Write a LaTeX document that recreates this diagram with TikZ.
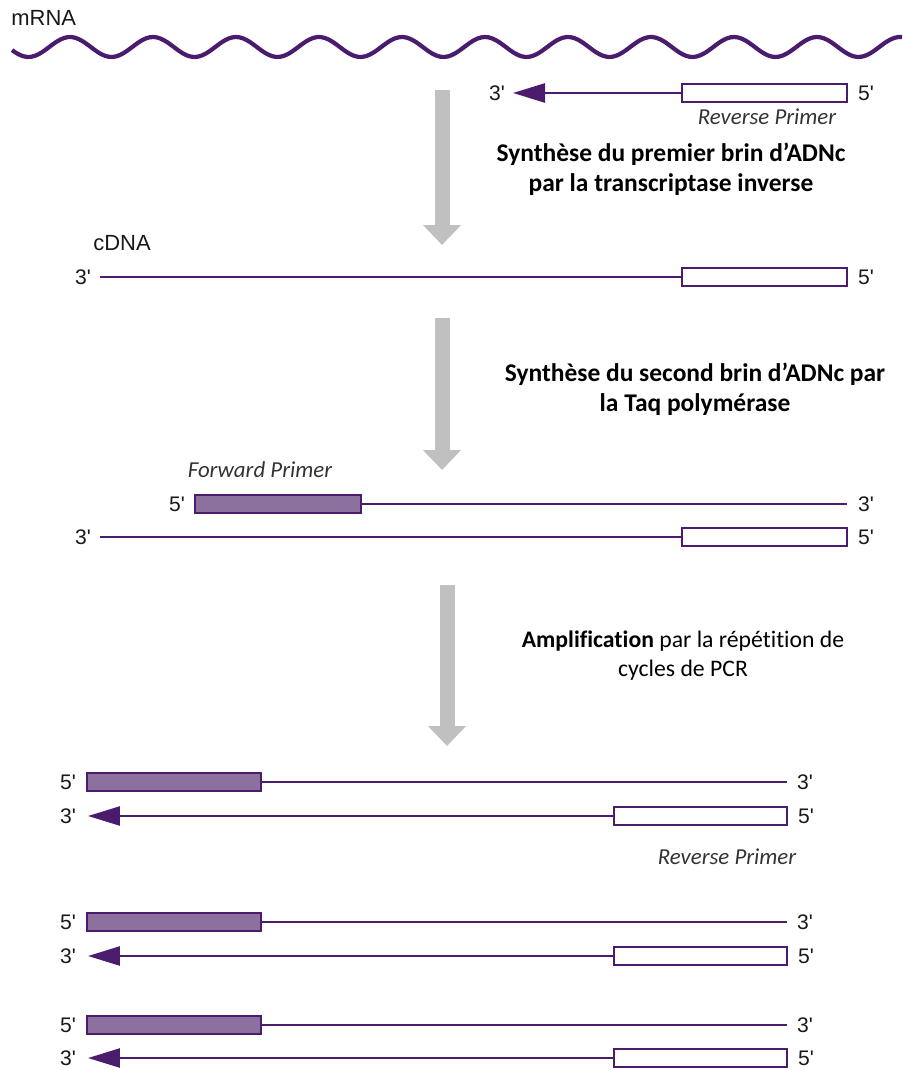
\documentclass[tikz,border=0pt]{standalone}
\usepackage{fontspec}
\setmainfont{Carlito}[Ligatures={TeX,NoCommon}]
\newfontfamily\arialfont[Ligatures=TeXOff]{Liberation Sans}
\usetikzlibrary{arrows.meta}

\definecolor{dnapurple}{RGB}{75,28,110}
\definecolor{primerfill}{RGB}{140,112,158}
\definecolor{stepgray}{RGB}{192,192,192}

\begin{document}
\begin{tikzpicture}[
  x=0.02cm, y=-0.02cm,
  endlabel/.style={font=\arialfont\fontsize{12}{13}\selectfont, text=black!90, inner sep=0pt},
  tag/.style={font=\arialfont\fontsize{12.5}{14}\selectfont, text=black!90, inner sep=0pt},
  revprimer/.style={draw=dnapurple, fill=white, line width=1.4pt, minimum width=3.3cm,
    minimum height=0.37cm, inner sep=0pt},
  fwdprimer/.style={revprimer, fill=primerfill},
  strand/.style={draw=dnapurple, line width=1.4pt},
  newstrand/.style={strand, -{Triangle[length=0.64cm, width=0.38cm]}},
  stepdown/.style={draw=stepgray, line width=0.3cm, -{Triangle[length=0.4cm, width=0.74cm]}},
  primername/.style={font=\itshape\fontsize{13}{15}\selectfont, text=black!80},
  stepnote/.style={font=\fontsize{13.5}{16.5}\selectfont, align=center},
  boldnote/.style={font=\bfseries\fontsize{14.5}{17}\selectfont, align=center}
]
\useasboundingbox (0,0) rectangle (902,1070);

% mRNA template
\node[tag, anchor=west] (mrna) at (11,18) {mRNA};
\draw[dnapurple, line width=2.4pt] plot[domain=12:902, samples=240, smooth] (\x, {47-10*cos(4.3373*(\x-70))});

% reverse primer on the mRNA
\node[revprimer] (rp0) at (764.5,93) {};
\coordinate (rp0tip) at (513,93);
\draw[newstrand] (rp0.west) -- (rp0tip);
\node[endlabel] (rp0three) at (497,93) {3'};
\node[endlabel] (rp0five) at (866,93) {5'};
\node[primername] (rp0name) at (767,117) {Reverse Primer};

% step 1
\coordinate (s1top) at (442,90);
\coordinate (s1bot) at (442,245);
\draw[stepdown] (s1top) -- (s1bot);
\node[boldnote] (s1note) at (671,169) {Synthèse du premier brin d’ADNc\\par la transcriptase inverse};

% first strand cDNA
\node[tag] (cdna) at (122,243) {cDNA};
\node[revprimer] (rp1) at (764.5,277) {};
\coordinate (rp1end) at (100,277);
\draw[strand] (rp1.west) -- (rp1end);
\node[endlabel] (rp1three) at (83,277) {3'};
\node[endlabel] (rp1five) at (866,277) {5'};

% step 2
\coordinate (s2top) at (442,318);
\coordinate (s2bot) at (442,470);
\draw[stepdown] (s2top) -- (s2bot);
\node[boldnote] (s2note) at (695,389) {Synthèse du second brin d’ADNc par\\la Taq polymérase};

% second strand with forward primer
\node[primername] (fpname) at (260,470) {Forward Primer};
\node[fwdprimer, minimum width=3.32cm] (fp2) at (278,504) {};
\coordinate (fp2end) at (847,504);
\draw[strand] (fp2.east) -- (fp2end);
\node[endlabel] (fp2five) at (177,504) {5'};
\node[endlabel] (fp2three) at (866,504) {3'};
\node[revprimer] (rp2) at (764.5,537) {};
\coordinate (rp2end) at (100,537);
\draw[strand] (rp2.west) -- (rp2end);
\node[endlabel] (rp2three) at (83,537) {3'};
\node[endlabel] (rp2five) at (866,537) {5'};

% step 3
\coordinate (s3top) at (447,585);
\coordinate (s3bot) at (447,746);
\draw[stepdown] (s3top) -- (s3bot);
\node[stepnote] (s3note) at (683,656) {\textbf{Amplification} par la répétition de\\cycles de PCR};

% PCR products, pair a
\node[fwdprimer, minimum width=3.48cm] (fpa) at (174,782) {};
\coordinate (fpaend) at (787,782);
\draw[strand] (fpa.east) -- (fpaend);
\node[endlabel] (fpafive) at (68,782) {5'};
\node[endlabel] (fpathree) at (805,782) {3'};
\node[revprimer, minimum width=3.46cm] (rpa) at (700.5,816) {};
\coordinate (rpatip) at (88,816);
\draw[newstrand] (rpa.west) -- (rpatip);
\node[endlabel] (rpathree) at (68,816) {3'};
\node[endlabel] (rpafive) at (806,816) {5'};
\node[primername] (rpaname) at (727,857) {Reverse Primer};

% pair b
\node[fwdprimer, minimum width=3.48cm] (fpb) at (174,922) {};
\coordinate (fpbend) at (787,922);
\draw[strand] (fpb.east) -- (fpbend);
\node[endlabel] (fpbfive) at (68,922) {5'};
\node[endlabel] (fpbthree) at (805,922) {3'};
\node[revprimer, minimum width=3.46cm] (rpb) at (700.5,956) {};
\coordinate (rpbtip) at (88,956);
\draw[newstrand] (rpb.west) -- (rpbtip);
\node[endlabel] (rpbthree) at (68,956) {3'};
\node[endlabel] (rpbfive) at (806,956) {5'};

% pair c
\node[fwdprimer, minimum width=3.48cm] (fpc) at (174,1025) {};
\coordinate (fpcend) at (787,1025);
\draw[strand] (fpc.east) -- (fpcend);
\node[endlabel] (fpcfive) at (68,1025) {5'};
\node[endlabel] (fpcthree) at (805,1025) {3'};
\node[revprimer, minimum width=3.46cm] (rpc) at (700.5,1058) {};
\coordinate (rpctip) at (88,1058);
\draw[newstrand] (rpc.west) -- (rpctip);
\node[endlabel] (rpcthree) at (68,1058) {3'};
\node[endlabel] (rpcfive) at (806,1058) {5'};

\end{tikzpicture}
\end{document}
